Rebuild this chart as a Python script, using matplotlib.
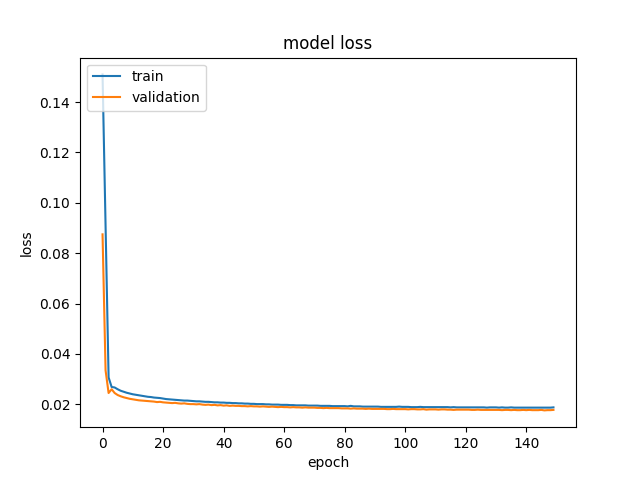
import matplotlib
matplotlib.use("Agg")
import matplotlib.pyplot as plt

# per-epoch loss
train_loss = [
    0.1510, 0.0910, 0.0307, 0.0269, 0.0267, 0.0260, 0.0254, 0.0250, 0.0246, 0.0243,
    0.0240, 0.0238, 0.0236, 0.0234, 0.0232, 0.0230, 0.0229, 0.0227, 0.0226, 0.0225,
    0.0223, 0.0221, 0.0220, 0.0219, 0.0218, 0.0217, 0.0216, 0.0215, 0.0215, 0.0214,
    0.0213, 0.0212, 0.0212, 0.0211, 0.0210, 0.0210, 0.0209, 0.0208, 0.0208, 0.0207,
    0.0207, 0.0206, 0.0206, 0.0205, 0.0205, 0.0204, 0.0204, 0.0203, 0.0203, 0.0202,
    0.0202, 0.0201, 0.0201, 0.0201, 0.0200, 0.0200, 0.0199, 0.0199, 0.0199, 0.0198,
    0.0198, 0.0198, 0.0197, 0.0197, 0.0196, 0.0196, 0.0196, 0.0196, 0.0195, 0.0195,
    0.0195, 0.0195, 0.0194, 0.0194, 0.0194, 0.0194, 0.0193, 0.0193, 0.0193, 0.0193,
    0.0193, 0.0192, 0.0194, 0.0192, 0.0192, 0.0192, 0.0191, 0.0191, 0.0191, 0.0191,
    0.0191, 0.0191, 0.0190, 0.0190, 0.0190, 0.0190, 0.0190, 0.0190, 0.0191, 0.0190,
    0.0190, 0.0190, 0.0189, 0.0189, 0.0189, 0.0190, 0.0189, 0.0189, 0.0189, 0.0189,
    0.0189, 0.0189, 0.0189, 0.0189, 0.0189, 0.0188, 0.0189, 0.0188, 0.0188, 0.0188,
    0.0188, 0.0188, 0.0188, 0.0188, 0.0188, 0.0188, 0.0188, 0.0187, 0.0188, 0.0188,
    0.0188, 0.0187, 0.0188, 0.0187, 0.0187, 0.0188, 0.0187, 0.0187, 0.0187, 0.0187,
    0.0187, 0.0187, 0.0187, 0.0187, 0.0187, 0.0187, 0.0187, 0.0187, 0.0187, 0.0188,
]

val_loss = [
    0.0875, 0.0335, 0.0245, 0.0260, 0.0245, 0.0237, 0.0232, 0.0228, 0.0225, 0.0222,
    0.0220, 0.0218, 0.0216, 0.0215, 0.0214, 0.0213, 0.0212, 0.0211, 0.0209, 0.0210,
    0.0208, 0.0207, 0.0206, 0.0205, 0.0206, 0.0204, 0.0203, 0.0204, 0.0202, 0.0201,
    0.0201, 0.0200, 0.0201, 0.0199, 0.0198, 0.0199, 0.0197, 0.0198, 0.0196, 0.0197,
    0.0195, 0.0196, 0.0194, 0.0195, 0.0194, 0.0194, 0.0193, 0.0193, 0.0192, 0.0193,
    0.0192, 0.0192, 0.0191, 0.0192, 0.0191, 0.0190, 0.0191, 0.0190, 0.0189, 0.0190,
    0.0189, 0.0189, 0.0188, 0.0189, 0.0188, 0.0188, 0.0187, 0.0188, 0.0187, 0.0187,
    0.0187, 0.0186, 0.0186, 0.0185, 0.0186, 0.0185, 0.0185, 0.0185, 0.0185, 0.0184,
    0.0184, 0.0184, 0.0183, 0.0184, 0.0183, 0.0183, 0.0183, 0.0182, 0.0183, 0.0182,
    0.0182, 0.0182, 0.0182, 0.0182, 0.0181, 0.0181, 0.0182, 0.0181, 0.0181, 0.0181,
    0.0181, 0.0180, 0.0181, 0.0181, 0.0180, 0.0180, 0.0181, 0.0179, 0.0180, 0.0180,
    0.0180, 0.0179, 0.0180, 0.0180, 0.0179, 0.0179, 0.0178, 0.0179, 0.0179, 0.0179,
    0.0179, 0.0179, 0.0178, 0.0178, 0.0179, 0.0178, 0.0178, 0.0178, 0.0178, 0.0178,
    0.0178, 0.0178, 0.0177, 0.0178, 0.0178, 0.0177, 0.0178, 0.0177, 0.0177, 0.0178,
    0.0177, 0.0178, 0.0177, 0.0177, 0.0177, 0.0178, 0.0176, 0.0177, 0.0177, 0.0178,
]

plt.plot(train_loss)
plt.plot(val_loss)
plt.title("model loss")
plt.ylabel("loss")
plt.xlabel("epoch")
plt.legend(["train", "validation"], loc="upper left")
plt.savefig("out.png")
